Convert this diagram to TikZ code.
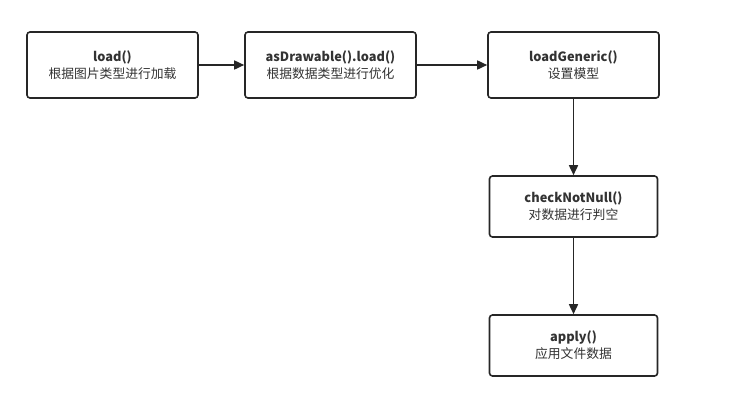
\documentclass[tikz,border=0pt]{standalone}
\usepackage{fontspec}
\setmainfont{Noto Sans CJK SC}
\usetikzlibrary{arrows.meta}
\begin{document}
\begin{tikzpicture}[x=1pt,y=-1pt,
  stepbox/.style={draw=black!85,line width=1.6pt,rounded corners=3pt,fill=white,
    minimum width=171pt,minimum height=66pt,align=center,inner sep=0pt,
    font=\fontsize{12.8pt}{17pt}\selectfont,text=black!80},
  conn/.style={draw=black!85,line width=1.6pt,-{Triangle[length=10pt,width=9pt]}}]
\useasboundingbox (0,0) rectangle (746,418);
\fill[white] (0,0) rectangle (746,418);
\node[stepbox] (a) at (112.5,65) {\textbf{load()}\\根据图片类型进行加载};
\node[stepbox] (b) at (330.5,65) {\textbf{asDrawable().load()}\\根据数据类型进行优化};
\node[stepbox] (c) at (573.5,65) {\textbf{loadGeneric()}\\设置模型};
\node[stepbox,minimum width=168pt,minimum height=61pt] (d) at (573.5,206.5) {\textbf{checkNotNull()}\\对数据进行判空};
\node[stepbox,minimum width=168pt,minimum height=61pt] (e) at (573.5,345.5) {\textbf{apply()}\\应用文件数据};
\draw[conn] (a) -- (b);
\draw[conn] (b) -- (c);
\draw[conn] (c) -- (d);
\draw[conn] (d) -- (e);
\end{tikzpicture}
\end{document}
